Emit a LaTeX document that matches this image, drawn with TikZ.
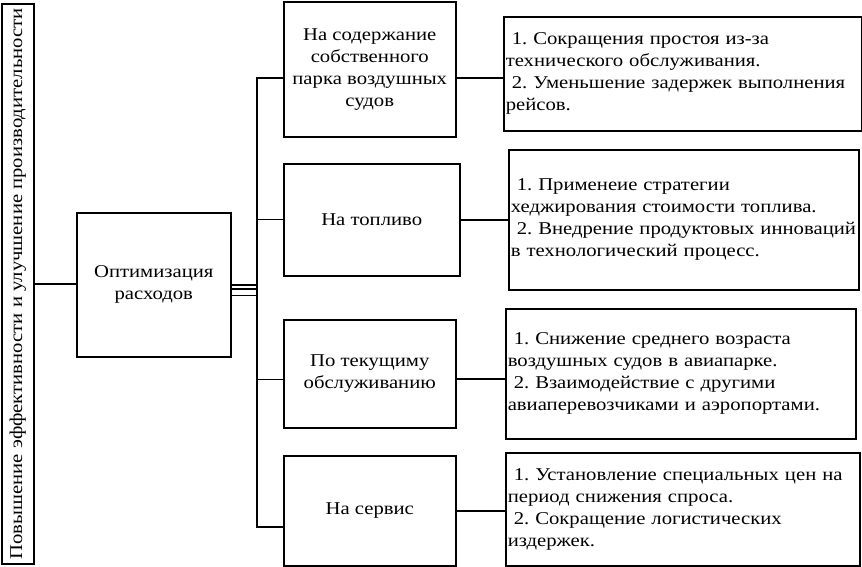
\documentclass[tikz,border=0pt]{standalone}
\usepackage{fontspec}
\setmainfont{Liberation Serif}[FakeStretch=1.15]
\begin{document}
\frenchspacing
\begin{tikzpicture}[x=1pt,y=-1pt,
  box/.style={draw, line width=1.5pt, inner sep=0pt, align=center, anchor=north west,
    font=\fontsize{18}{22}\selectfont},
  rbox/.style={box, align=left, inner xsep=2pt},
  conn/.style={line width=1.5pt},
  thinconn/.style={line width=0.9pt}]
\useasboundingbox (0,0) rectangle (862,566);
% left vertical box
\node[box, minimum width=32pt, minimum height=560pt] (L) at (1,3) {};
\node[rotate=90, font=\fontsize{18}{22}\selectfont, inner sep=0pt] (Lt) at (L.center)
  {Повышение эффективности и улучшение производительности};
% middle box
\node[box, minimum width=154pt, minimum height=144pt] (M) at (76,212) {Оптимизация\\расходов};
% category boxes
\node[box, minimum width=172pt, minimum height=135pt] (b1) at (283,1) {На содержание\\собственного\\парка воздушных\\судов};
\node[box, minimum width=176pt, minimum height=112pt] (b2) at (283,163) {На топливо};
\node[box, minimum width=172pt, minimum height=108pt] (b3) at (283,319) {По текущиму\\обслуживанию};
\node[box, minimum width=172pt, minimum height=110pt] (b4) at (283,455) {На сервис};
% right boxes
\node[rbox, minimum width=358pt, minimum height=114pt, text width=354pt] (r1) at (503,16)
  {\ 1. Сокращения простоя из-за\\технического обслуживания.\\\mbox{\ 2. Уменьшение задержек выполнения}\\рейсов.};
\node[rbox, minimum width=350pt, minimum height=140pt, text width=346pt] (r2) at (508,149)
  {\ 1. Применеие стратегии\\хеджирования стоимости топлива.\\\mbox{\ 2. Внедрение продуктовых инноваций}\\в технологический процесс.};
\node[rbox, minimum width=350pt, minimum height=130pt, text width=346pt] (r3) at (505,308)
  {\ 1. Снижение среднего возраста\\воздушных судов в авиапарке.\\\ 2. Взаимодействие с другими\\\mbox{авиаперевозчиками и аэропортами.}};
\node[rbox, minimum width=354pt, minimum height=113pt, text width=350pt] (r4) at (505,452)
  {\mbox{\ 1. Установление специальных цен на}\\период снижения спроса.\\\ 2. Сокращение логистических\\издержек.};
% trunk coordinates
\coordinate (t1) at (257,78);
\coordinate (t3) at (257,379);
\coordinate (t4) at (257,527);
\coordinate (y1) at (0,285);
\coordinate (y2) at (0,289);
\coordinate (y3) at (0,295);
% connectors
\draw[conn] (L.east) -- (L.east -| M.west);
\draw[conn] (M.east |- y1) -- (t1 |- y1);
\draw[conn] (M.east |- y2) -- (t1 |- y2);
\draw[thinconn] (M.east |- y3) -- (t1 |- y3);
\draw[conn] (b1.west |- t1) -- (t1) -- (t4) -- (t4 -| b4.west);
\draw[thinconn] (t1 |- b2.west) -- (b2.west);
\draw[thinconn] (t3) -- (t3 -| b3.west);
\draw[conn] (b1.east |- t1) -- (t1 -| r1.west);
\draw[conn] (b2.east) -- (b2.east -| r2.west);
\draw[conn] (b3.east |- t3) -- (t3 -| r3.west);
\draw[conn] (b4.east) -- (b4.east -| r4.west);
\end{tikzpicture}
\end{document}
